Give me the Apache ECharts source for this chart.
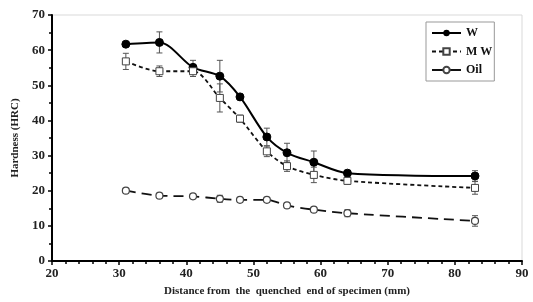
<!DOCTYPE html>
<html><head><meta charset="utf-8">
<script src="https://cdn.jsdelivr.net/npm/echarts@6/dist/echarts.min.js"></script>
<style>html,body{margin:0;padding:0;background:#fff}#c{width:533px;height:302px}</style>
</head><body><div id="c"></div>
<script>
const xs = [31, 36, 41, 45, 48, 52, 55, 59, 64, 83];
const wVals = [61.7, 62.2, 55.1, 52.6, 46.7, 35.3, 30.8, 28.1, 25.0, 24.2];
const wErr = [0.6, 3.0, 2.0, 4.5, 0.8, 2.5, 2.7, 3.2, 0.8, 1.5];
const mwVals = [56.8, 54.0, 54.0, 46.4, 40.5, 31.2, 27.0, 24.5, 22.8, 20.8];
const mwErr = [2.3, 1.5, 1.5, 4.0, 1.0, 1.5, 1.5, 2.2, 1.0, 1.8];
const oilVals = [20.0, 18.6, 18.4, 17.7, 17.4, 17.4, 15.8, 14.6, 13.6, 11.4];
const oilErr = [0.5, 0.5, 0.5, 1.0, 0.5, 0.5, 0.5, 0.5, 1.0, 1.5];
const seriesNames = ['W', 'M W', 'Oil'];
const xTitle = 'Distance from  the  quenched  end of specimen (mm)';
const yTitle = 'Hardness (HRC)';

const font = 'Liberation Serif';
function pairs(v){ return xs.map((x,i)=>[x, v[i]]); }
function errData(v,e){ return xs.map((x,i)=>[x, v[i]-e[i], v[i]+e[i]]); }
function errSeries(v,e){
  return {
    type:'custom', silent:true, z:1,
    data: errData(v,e),
    encode:{x:0, y:[1,2]},
    renderItem(params, api){
      const x = api.value(0);
      const lo = api.coord([x, api.value(1)]);
      const hi = api.coord([x, api.value(2)]);
      const w = 3;
      const st = {stroke:'#555', lineWidth:1};
      return {type:'group', children:[
        {type:'line', shape:{x1:lo[0],y1:lo[1],x2:hi[0],y2:hi[1]}, style:st},
        {type:'line', shape:{x1:lo[0]-w,y1:lo[1],x2:lo[0]+w,y2:lo[1]}, style:st},
        {type:'line', shape:{x1:hi[0]-w,y1:hi[1],x2:hi[0]+w,y2:hi[1]}, style:st}
      ]};
    }
  };
}
const chart = echarts.init(document.getElementById('c'), null, {renderer:'canvas'});
chart.setOption({
  animation:false,
  backgroundColor:'#fff',
  grid:{left:52, right:11, top:15, bottom:36, show:true, borderColor:'#d9d9d9', borderWidth:1},
  xAxis:{type:'value', min:20, max:90, interval:10,
    axisLine:{lineStyle:{color:'#000', width:2}},
    axisTick:{length:4, lineStyle:{color:'#000', width:1.5}},
    minorTick:{show:true, splitNumber:5, length:3, lineStyle:{color:'#000', width:1.5}},
    splitLine:{show:false},
    axisLabel:{color:'#222', fontFamily:font, fontWeight:'bold', fontSize:13, margin:6},
    name:xTitle, nameLocation:'middle', nameGap:25,
    nameTextStyle:{color:'#222', fontFamily:font, fontWeight:'bold', fontSize:11}
  },
  yAxis:{type:'value', min:0, max:70, interval:10,
    axisLine:{show:true, lineStyle:{color:'#000', width:2}},
    axisTick:{show:true, length:4, lineStyle:{color:'#000', width:1.5}},
    minorTick:{show:true, splitNumber:2, length:3, lineStyle:{color:'#000', width:1.5}},
    splitLine:{show:false},
    axisLabel:{color:'#222', fontFamily:font, fontWeight:'bold', fontSize:13, margin:7},
    name:yTitle, nameLocation:'middle', nameGap:29,
    nameTextStyle:{color:'#222', fontFamily:font, fontWeight:'bold', fontSize:11}
  },
  legend:{
    orient:'vertical', left:426, top:22,
    itemWidth:29, itemHeight:8, itemGap:6.5,
    backgroundColor:'#fff', borderColor:'#999', borderWidth:1,
    padding:[5,2,5,5],
    textStyle:{color:'#111', fontFamily:font, fontWeight:'bold', fontSize:12},
    data:[
      {name:seriesNames[0]},
      {name:seriesNames[1]},
      {name:seriesNames[2], lineStyle:{type:'solid'}}
    ]
  },
  series:[
    errSeries(wVals,wErr), errSeries(mwVals,mwErr), errSeries(oilVals,oilErr),
    {name:seriesNames[0], type:'line', data:pairs(wVals), smooth:0.3, z:3,
      symbol:'circle', symbolSize:8,
      lineStyle:{color:'#000', width:2}, itemStyle:{color:'#000', borderColor:'#000'}},
    {name:seriesNames[1], type:'line', data:pairs(mwVals), smooth:0.3, z:3,
      symbol:'rect', symbolSize:7,
      lineStyle:{color:'#111', width:1.8, type:[4,3]}, itemStyle:{color:'#fff', borderColor:'#444', borderWidth:1}},
    {name:seriesNames[2], type:'line', data:pairs(oilVals), smooth:0.3, z:3,
      symbol:'circle', symbolSize:7,
      lineStyle:{color:'#111', width:1.8, type:[10,6]}, itemStyle:{color:'#fff', borderColor:'#444', borderWidth:1.2}}
  ]
});
</script></body></html>
